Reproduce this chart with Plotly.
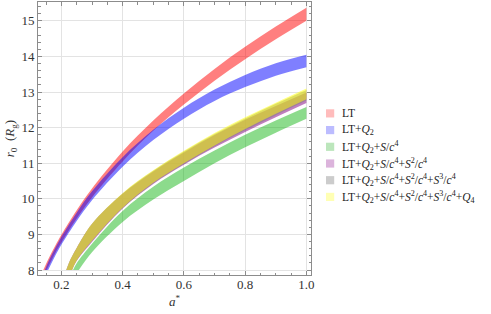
import plotly.graph_objects as go

# ---------------- data ----------------
# LT (red)
a_lt_up = [0.141, 0.16, 0.18, 0.2, 0.25, 0.3, 0.4, 0.5, 0.6, 0.7, 0.8, 0.9, 1.0]
r_lt_up = [8.0, 8.35, 8.68, 8.99, 9.68, 10.29, 11.33, 12.20, 12.96, 13.65, 14.27, 14.84, 15.37]
a_lt_lo = [0.152, 0.16, 0.18, 0.2, 0.25, 0.3, 0.4, 0.5, 0.6, 0.7, 0.8, 0.9, 1.0]
r_lt_lo = [8.0, 8.14, 8.47, 8.77, 9.45, 10.04, 11.05, 11.91, 12.65, 13.32, 13.92, 14.48, 15.0]

# LT+Q2 (blue)
a_q2_up = [0.146, 0.16, 0.18, 0.2, 0.25, 0.3, 0.4, 0.5, 0.6, 0.7, 0.8, 0.9, 1.0]
r_q2_up = [8.0, 8.28, 8.62, 8.93, 9.61, 10.21, 11.17, 11.94, 12.56, 13.07, 13.48, 13.81, 14.05]
a_q2_lo = [0.157, 0.18, 0.2, 0.25, 0.3, 0.4, 0.5, 0.6, 0.7, 0.8, 0.9, 1.0]
r_q2_lo = [8.0, 8.40, 8.71, 9.38, 9.96, 10.90, 11.65, 12.25, 12.75, 13.14, 13.46, 13.70]

# LT+Q2+S/c^4 (green)
a_s1_up = [0.238, 0.25, 0.3, 0.4, 0.5, 0.6, 0.7, 0.8, 0.9, 1.0]
r_s1_up = [8.0, 8.19, 8.74, 9.66, 10.34, 10.88, 11.36, 11.80, 12.20, 12.58]
a_s1_lo = [0.257, 0.3, 0.4, 0.5, 0.6, 0.7, 0.8, 0.9, 1.0]
r_s1_lo = [8.0, 8.50, 9.35, 9.98, 10.50, 11.00, 11.45, 11.86, 12.25]

# upper / lower edges of the three nearly coincident bands share these a values
a_hi_up = [0.216, 0.23, 0.25, 0.3, 0.4, 0.5, 0.6, 0.7, 0.8, 0.9, 1.0]
a_hi_lo = [0.235, 0.25, 0.3, 0.4, 0.5, 0.6, 0.7, 0.8, 0.9, 1.0]

# LT+Q2+S/c^4+S^2/c^4 (purple)
r_s2_up = [8.0, 8.30, 8.62, 9.29, 10.14, 10.77, 11.30, 11.79, 12.22, 12.61, 12.99]
r_s2_lo = [8.0, 8.26, 8.79, 9.73, 10.42, 10.96, 11.44, 11.88, 12.29, 12.69]

# LT+Q2+S/c^4+S^2/c^4+S^3/c^4 (gray)
r_s3_up = [8.0, 8.30, 8.62, 9.30, 10.15, 10.79, 11.33, 11.82, 12.26, 12.67, 13.06]
r_s3_lo = [8.0, 8.27, 8.82, 9.74, 10.44, 10.98, 11.48, 11.93, 12.35, 12.76]

# LT+Q2+S/c^4+S^2/c^4+S^3/c^4+Q4 (yellow)
r_q4_up = [8.0, 8.30, 8.62, 9.30, 10.16, 10.80, 11.35, 11.85, 12.29, 12.70, 13.10]
r_q4_lo = [8.0, 8.27, 8.82, 9.75, 10.45, 11.00, 11.50, 11.96, 12.39, 12.80]

labels = [
    "LT",
    "LT+<i>Q</i><sub>2</sub>",
    "LT+<i>Q</i><sub>2</sub>+<i>S</i>/<i>c</i><sup>4</sup>",
    "LT+<i>Q</i><sub>2</sub>+<i>S</i>/<i>c</i><sup>4</sup>+<i>S</i><sup>2</sup>/<i>c</i><sup>4</sup>",
    "LT+<i>Q</i><sub>2</sub>+<i>S</i>/<i>c</i><sup>4</sup>+<i>S</i><sup>2</sup>/<i>c</i><sup>4</sup>+<i>S</i><sup>3</sup>/<i>c</i><sup>4</sup>",
    "LT+<i>Q</i><sub>2</sub>+<i>S</i>/<i>c</i><sup>4</sup>+<i>S</i><sup>2</sup>/<i>c</i><sup>4</sup>+<i>S</i><sup>3</sup>/<i>c</i><sup>4</sup>+<i>Q</i><sub>4</sub>",
]

bands = [
    (a_lt_up, r_lt_up, a_lt_lo, r_lt_lo),
    (a_q2_up, r_q2_up, a_q2_lo, r_q2_lo),
    (a_s1_up, r_s1_up, a_s1_lo, r_s1_lo),
    (a_hi_up, r_s2_up, a_hi_lo, r_s2_lo),
    (a_hi_up, r_s3_up, a_hi_lo, r_s3_lo),
    (a_hi_up, r_q4_up, a_hi_lo, r_q4_lo),
]

fill_colors = [
    "rgba(255,0,0,0.5)",
    "rgba(0,0,255,0.5)",
    "rgba(0,175,0,0.45)",
    "rgba(128,0,128,0.5)",
    "rgba(128,128,128,0.5)",
    "rgba(255,255,0,0.5)",
]
swatch_colors = ["#ffbcbc", "#bcbcff", "#bce6bc", "#dcb4dc", "#cccccc", "#ffffb4"]

FONT = "Liberation Serif, DejaVu Serif, serif"
AX = "#8c8c8c"

fig = go.Figure()
for (au, ru, al, rl), fc in zip(bands, fill_colors):
    fig.add_trace(go.Scatter(x=al, y=rl, mode="lines", line=dict(width=0, shape="spline", color=fc),
                             showlegend=False, hoverinfo="skip"))
    fig.add_trace(go.Scatter(x=au, y=ru, mode="lines", line=dict(width=0, shape="spline", color=fc),
                             fill="tonexty", fillcolor=fc, showlegend=False, hoverinfo="skip"))

# manual legend
row0 = 0.592
step = 0.0612
for i, (lab, sc) in enumerate(zip(labels, swatch_colors)):
    yc = row0 - i * step
    fig.add_shape(type="rect", xref="paper", yref="paper",
                  x0=1.055, x1=1.085, y0=yc - 0.015, y1=yc + 0.015,
                  fillcolor=sc, line=dict(width=0))
    fig.add_annotation(xref="paper", yref="paper", x=1.107, y=yc, text=lab,
                       showarrow=False, xanchor="left", yanchor="middle",
                       font=dict(family=FONT, size=11.5, color="#222"))

# axis titles
fig.add_annotation(xref="paper", yref="paper", x=0.5, y=-0.094, text="<i>a</i><sup>*</sup>",
                   showarrow=False, xanchor="center", yanchor="middle",
                   font=dict(family=FONT, size=13, color="#333"))
fig.add_annotation(xref="paper", yref="paper", x=-0.1, y=0.5,
                   text="<i>r</i><sub>0</sub>  (<i>R</i><sub>g</sub>)", textangle=-90,
                   showarrow=False, xanchor="center", yanchor="middle",
                   font=dict(family=FONT, size=13, color="#333"))

axis_common = dict(
    showline=True, linecolor=AX, linewidth=1, mirror="ticks",
    ticks="inside", tickcolor=AX, ticklen=4, tickwidth=1,
    showgrid=True, gridcolor="#e3e3e3", gridwidth=1, zeroline=False,
    tickfont=dict(family=FONT, size=13, color="#333"),
)

fig.update_xaxes(range=[0.1237, 1.015], tick0=0, dtick=0.2, tickformat=".1f", ticklabelstandoff=-3,
                 minor=dict(dtick=0.05, tick0=0, ticks="inside", ticklen=2.5, tickcolor=AX, showgrid=False),
                 **axis_common)
fig.update_yaxes(range=[7.86, 15.53], tick0=0, dtick=1,
                 minor=dict(dtick=0.2, tick0=0, ticks="inside", ticklen=2.5, tickcolor=AX, showgrid=False),
                 **axis_common)

fig.update_layout(width=491, height=314, margin=dict(l=38, r=180, t=2, b=39),
                  paper_bgcolor="white", plot_bgcolor="white", showlegend=False)

fig.write_html("out.html", config={"displayModeBar": False, "staticPlot": True},
               post_script="document.body.style.margin='0px';document.body.style.padding='0px';")
